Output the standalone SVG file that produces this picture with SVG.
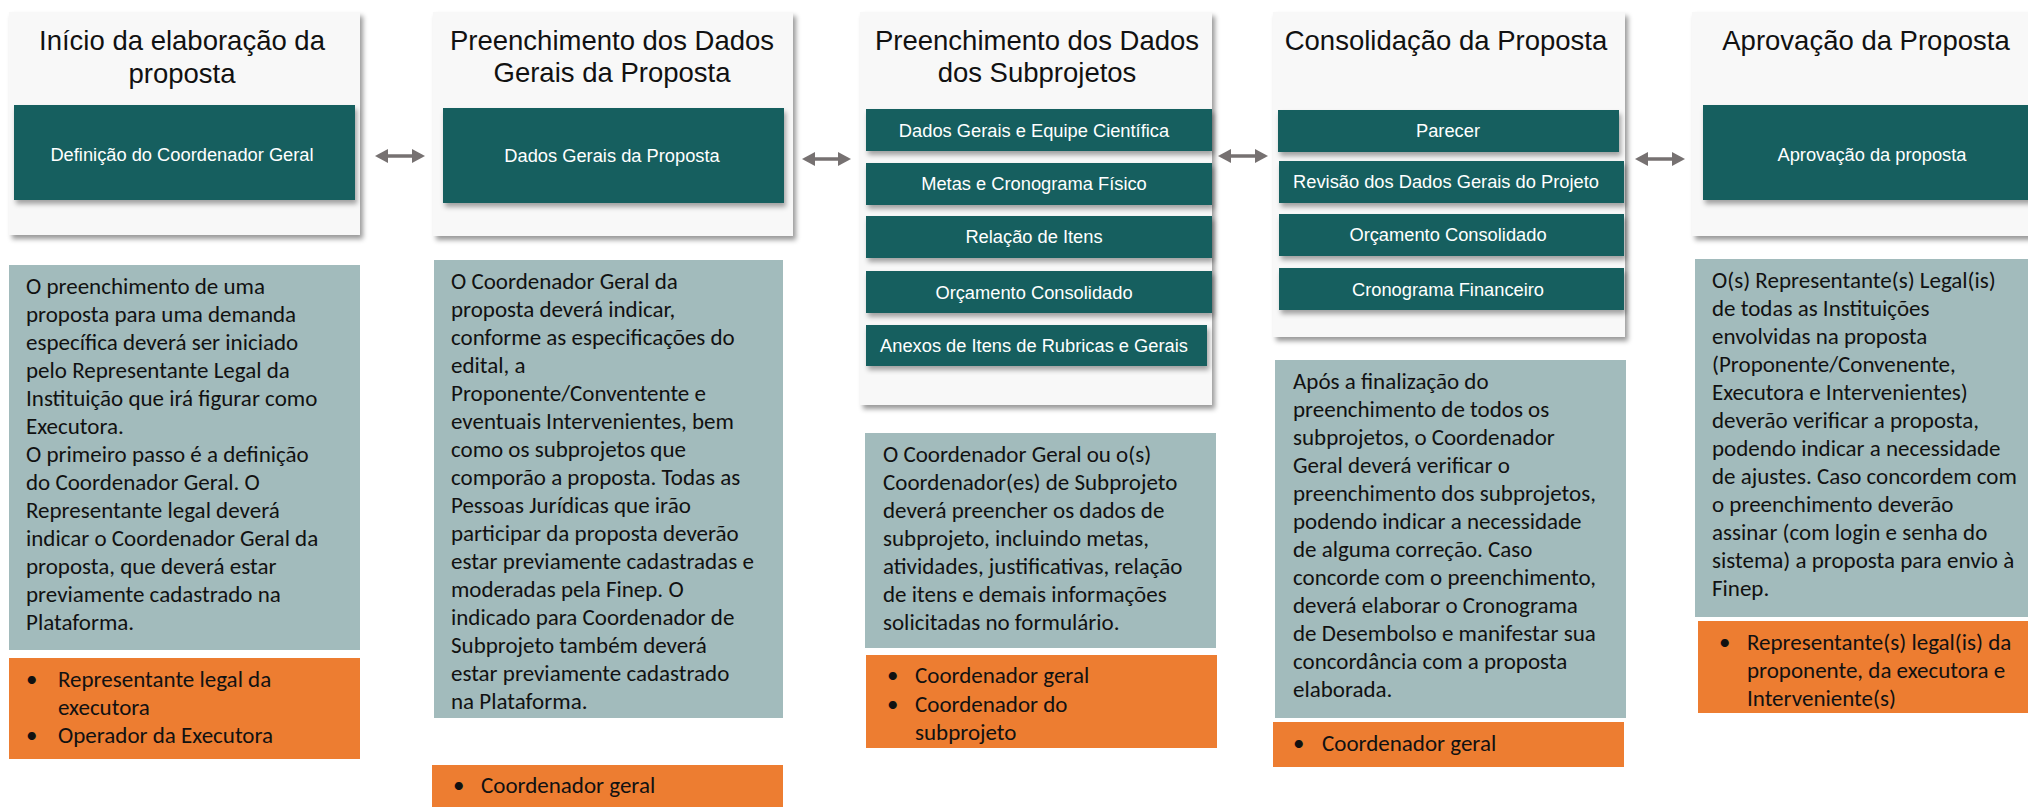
<svg xmlns="http://www.w3.org/2000/svg" width="2028" height="807" viewBox="0 0 2028 807">
<style>
.card{fill:#F8F8F8;filter:url(#sh)}
.teal{fill:#155F5F;filter:url(#sh2)}
.desc{fill:#A2BBBC}
.role{fill:#ED7D31}
.title{font-family:"Liberation Sans",Arial,sans-serif;font-size:27.5px;fill:#111;text-anchor:middle}
.lbl{font-family:"Liberation Sans",Arial,sans-serif;font-size:18.3px;fill:#FFFFFF;text-anchor:middle}
.body{font-family:Carlito,Lato,sans-serif;font-size:23px;fill:#111}
.conn{stroke:#767171;stroke-width:3.5;fill:none;marker-start:url(#ah);marker-end:url(#ah)}
</style>
<defs>
<filter id="sh" x="-5%" y="-5%" width="115%" height="120%">
<feDropShadow dx="3" dy="4" stdDeviation="2.5" flood-color="#000" flood-opacity="0.4"/>
</filter>
<filter id="sh2" x="-5%" y="-10%" width="115%" height="130%">
<feDropShadow dx="2" dy="4" stdDeviation="2.5" flood-color="#000" flood-opacity="0.35"/>
</filter>
<marker id="ah" viewBox="0 0 13 14" markerWidth="13" markerHeight="14" refX="8" refY="7" markerUnits="userSpaceOnUse" orient="auto-start-reverse">
<path d="M0,0 L13,7 L0,14 z" fill="#767171"/>
</marker>
</defs>
<rect width="2028" height="807" fill="#FFFFFF"/>

<g id="connectors">
<line class="conn" x1="380" y1="156" x2="420" y2="156"/>
<line class="conn" x1="807" y1="159" x2="846" y2="159"/>
<line class="conn" x1="1223" y1="156" x2="1263" y2="156"/>
<line class="conn" x1="1640" y1="159" x2="1680" y2="159"/>
</g>

<g id="col1">
<rect class="card" x="9" y="12" width="351" height="223"/>
<text class="title" x="182" y="50">Início da elaboração da</text>
<text class="title" x="182" y="83">proposta</text>
<rect class="teal" x="14" y="105" width="341" height="95"/>
<text class="lbl" x="182" y="161">Definição do Coordenador Geral</text>
<rect class="desc" x="9" y="265" width="351" height="385"/>
<text class="body"><tspan x="26" y="294">O preenchimento de uma</tspan><tspan x="26" y="322">proposta para uma demanda</tspan><tspan x="26" y="350">específica deverá ser iniciado</tspan><tspan x="26" y="378">pelo Representante Legal da</tspan><tspan x="26" y="406">Instituição que irá figurar como</tspan><tspan x="26" y="434">Executora.</tspan><tspan x="26" y="462">O primeiro passo é a definição</tspan><tspan x="26" y="490">do Coordenador Geral. O</tspan><tspan x="26" y="518">Representante legal deverá</tspan><tspan x="26" y="546">indicar o Coordenador Geral da</tspan><tspan x="26" y="574">proposta, que deverá estar</tspan><tspan x="26" y="602">previamente cadastrado na</tspan><tspan x="26" y="630">Plataforma.</tspan></text>
<rect class="role" x="9" y="658" width="351" height="101"/>
<text class="body"><tspan x="26" y="687">•</tspan><tspan x="58" y="687">Representante legal da</tspan><tspan x="58" y="715">executora</tspan><tspan x="26" y="743">•</tspan><tspan x="58" y="743">Operador da Executora</tspan></text>
</g>

<g id="col2">
<rect class="card" x="433" y="12" width="360" height="224"/>
<text class="title" x="612" y="50">Preenchimento dos Dados</text>
<text class="title" x="612" y="82">Gerais da Proposta</text>
<rect class="teal" x="443" y="108" width="341" height="95"/>
<text class="lbl" x="612" y="162">Dados Gerais da Proposta</text>
<rect class="desc" x="434" y="260" width="349" height="458"/>
<text class="body"><tspan x="451" y="289">O Coordenador Geral da</tspan><tspan x="451" y="317">proposta deverá indicar,</tspan><tspan x="451" y="345">conforme as especificações do</tspan><tspan x="451" y="373">edital, a</tspan><tspan x="451" y="401">Proponente/Conventente  e</tspan><tspan x="451" y="429">eventuais Intervenientes, bem</tspan><tspan x="451" y="457">como os subprojetos que</tspan><tspan x="451" y="485">comporão a proposta. Todas as</tspan><tspan x="451" y="513">Pessoas Jurídicas que irão</tspan><tspan x="451" y="541">participar da proposta deverão</tspan><tspan x="451" y="569">estar previamente  cadastradas e</tspan><tspan x="451" y="597">moderadas pela Finep. O</tspan><tspan x="451" y="625">indicado para Coordenador de</tspan><tspan x="451" y="653">Subprojeto também deverá</tspan><tspan x="451" y="681">estar previamente cadastrado</tspan><tspan x="451" y="709">na Plataforma.</tspan></text>
<rect class="role" x="432" y="765" width="351" height="42"/>
<text class="body"><tspan x="453" y="793">•</tspan><tspan x="481" y="793">Coordenador geral</tspan></text>
</g>

<g id="col3">
<rect class="card" x="860" y="12" width="352" height="393"/>
<text class="title" x="1037" y="50">Preenchimento dos Dados</text>
<text class="title" x="1037" y="82">dos Subprojetos</text>
<rect class="teal" x="866" y="109" width="346" height="42"/>
<text class="lbl" x="1034" y="137">Dados Gerais e Equipe Científica</text>
<rect class="teal" x="866" y="163" width="346" height="42"/>
<text class="lbl" x="1034" y="190">Metas e Cronograma Físico</text>
<rect class="teal" x="866" y="216" width="346" height="42"/>
<text class="lbl" x="1034" y="243">Relação de Itens</text>
<rect class="teal" x="866" y="271" width="346" height="42"/>
<text class="lbl" x="1034" y="299">Orçamento Consolidado</text>
<rect class="teal" x="866" y="325" width="341" height="41"/>
<text class="lbl" x="1034" y="352">Anexos de Itens de Rubricas e Gerais</text>
<rect class="desc" x="865" y="433" width="351" height="215"/>
<text class="body"><tspan x="883" y="462">O Coordenador Geral ou o(s)</tspan><tspan x="883" y="490">Coordenador(es) de Subprojeto</tspan><tspan x="883" y="518">deverá preencher os dados de</tspan><tspan x="883" y="546">subprojeto, incluindo metas,</tspan><tspan x="883" y="574">atividades, justificativas, relação</tspan><tspan x="883" y="602">de itens e demais informações</tspan><tspan x="883" y="630">solicitadas no formulário.</tspan></text>
<rect class="role" x="866" y="655" width="351" height="93"/>
<text class="body"><tspan x="887" y="683">•</tspan><tspan x="915" y="683">Coordenador geral</tspan><tspan x="887" y="712">•</tspan><tspan x="915" y="712">Coordenador do</tspan><tspan x="915" y="740">subprojeto</tspan></text>
</g>

<g id="col4">
<rect class="card" x="1273" y="12" width="352" height="325"/>
<text class="title" x="1446" y="50">Consolidação da Proposta</text>
<rect class="teal" x="1278" y="110" width="341" height="42"/>
<text class="lbl" x="1448" y="137">Parecer</text>
<rect class="teal" x="1279" y="161" width="345" height="42"/>
<text class="lbl" x="1446" y="188">Revisão dos Dados Gerais do Projeto</text>
<rect class="teal" x="1279" y="214" width="345" height="42"/>
<text class="lbl" x="1448" y="241">Orçamento Consolidado</text>
<rect class="teal" x="1279" y="268" width="345" height="42"/>
<text class="lbl" x="1448" y="296">Cronograma Financeiro</text>
<rect class="desc" x="1275" y="360" width="351" height="358"/>
<text class="body"><tspan x="1293" y="388.5">Após a finalização do</tspan><tspan x="1293" y="416.5">preenchimento de todos os</tspan><tspan x="1293" y="444.5">subprojetos, o Coordenador</tspan><tspan x="1293" y="472.5">Geral deverá verificar o</tspan><tspan x="1293" y="500.5">preenchimento dos subprojetos,</tspan><tspan x="1293" y="528.5">podendo indicar a necessidade</tspan><tspan x="1293" y="556.5">de alguma correção. Caso</tspan><tspan x="1293" y="584.5">concorde com o preenchimento,</tspan><tspan x="1293" y="612.5">deverá elaborar o Cronograma</tspan><tspan x="1293" y="640.5">de Desembolso e manifestar sua</tspan><tspan x="1293" y="668.5">concordância com a proposta</tspan><tspan x="1293" y="696.5">elaborada.</tspan></text>
<rect class="role" x="1273" y="722" width="351" height="45"/>
<text class="body"><tspan x="1293" y="751">•</tspan><tspan x="1322" y="751">Coordenador geral</tspan></text>
</g>

<g id="col5">
<rect class="card" x="1692" y="12" width="360" height="224"/>
<text class="title" x="1866" y="50">Aprovação da Proposta</text>
<rect class="teal" x="1703" y="105" width="338" height="95"/>
<text class="lbl" x="1872" y="161">Aprovação da proposta</text>
<rect class="desc" x="1695" y="259" width="340" height="358"/>
<text class="body"><tspan x="1712" y="288">O(s) Representante(s) Legal(is)</tspan><tspan x="1712" y="316">de todas as Instituições</tspan><tspan x="1712" y="344">envolvidas na proposta</tspan><tspan x="1712" y="372">(Proponente/Convenente,</tspan><tspan x="1712" y="400">Executora e Intervenientes)</tspan><tspan x="1712" y="428">deverão verificar a proposta,</tspan><tspan x="1712" y="456">podendo indicar a necessidade</tspan><tspan x="1712" y="484">de ajustes. Caso concordem com</tspan><tspan x="1712" y="512">o preenchimento deverão</tspan><tspan x="1712" y="540">assinar (com login e senha do</tspan><tspan x="1712" y="568">sistema) a proposta para envio à</tspan><tspan x="1712" y="596">Finep.</tspan></text>
<rect class="role" x="1698" y="621" width="340" height="92"/>
<text class="body"><tspan x="1719" y="650">•</tspan><tspan x="1747" y="650">Representante(s) legal(is) da</tspan><tspan x="1747" y="678">proponente, da executora e</tspan><tspan x="1747" y="706">Interveniente(s)</tspan></text>
</g>
</svg>
